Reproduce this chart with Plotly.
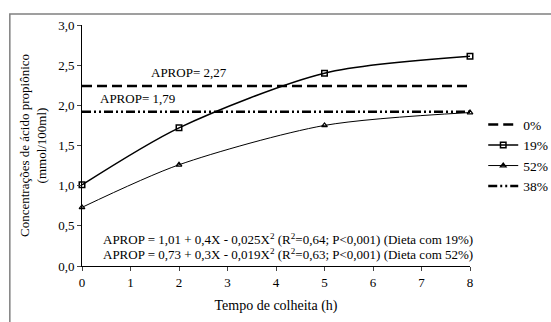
import plotly.graph_objects as go

# Data
tempo = [0, 2, 5, 8]
dieta19 = [1.01, 1.72, 2.40, 2.61]
dieta52 = [0.73, 1.26, 1.75, 1.91]
linha0_x = [0, 8]
linha0_y = [2.24, 2.24]
linha38_x = [0, 8]
linha38_y = [1.92, 1.92]
x_ticks = [0, 1, 2, 3, 4, 5, 6, 7, 8]
y_ticks = [0.0, 0.5, 1.0, 1.5, 2.0, 2.5, 3.0]
y_labels = ["0,0", "0,5", "1,0", "1,5", "2,0", "2,5", "3,0"]

FONT = "Liberation Serif"

fig = go.Figure()
fig.add_trace(go.Scatter(x=linha0_x, y=linha0_y, mode="lines", name="0%",
                         line=dict(color="black", width=2.5, dash="10px,5px"),
                         cliponaxis=False))
fig.add_trace(go.Scatter(x=tempo, y=dieta19, mode="lines+markers", name="19%",
                         line=dict(color="black", width=1.5, shape="spline", smoothing=0.8),
                         marker=dict(symbol="square-open", size=5.5, color="black",
                                     line=dict(width=1.5)),
                         cliponaxis=False))
fig.add_trace(go.Scatter(x=tempo, y=dieta52, mode="lines+markers", name="52%",
                         line=dict(color="black", width=1, shape="spline", smoothing=0.8),
                         marker=dict(symbol="triangle-up-open", size=5, color="black",
                                     line=dict(width=1.2)),
                         cliponaxis=False))
fig.add_trace(go.Scatter(x=linha38_x, y=linha38_y, mode="lines", name="38%",
                         line=dict(color="black", width=2.5,
                                   dash="9px,3px,2px,3px,2px,3px"),
                         cliponaxis=False))

annots = [
    dict(x=2.2, y=2.41, text="APROP= 2,27", xanchor="center"),
    dict(x=1.15, y=2.08, text="APROP= 1,79", xanchor="center"),
    dict(x=0.39, y=0.33, text="APROP = 1,01 + 0,4X - 0,025X<sup>2</sup> (R<sup>2</sup>=0,64; P<0,001) (Dieta com 19%)", xanchor="left"),
    dict(x=0.39, y=0.155, text="APROP = 0,73 + 0,3X - 0,019X<sup>2</sup> (R<sup>2</sup>=0,63; P<0,001) (Dieta com 52%)", xanchor="left"),
]
for a in annots:
    fig.add_annotation(x=a["x"], y=a["y"], text=a["text"], xanchor=a["xanchor"],
                       yanchor="middle", showarrow=False,
                       font=dict(family=FONT, size=13, color="black"))

# outer frame
fig.add_shape(type="rect", xref="paper", yref="paper",
              x0=-0.186, x1=1.5, y0=-0.5, y1=1.046,
              line=dict(color="#808080", width=1.5), layer="below")

fig.update_layout(
    width=551, height=322,
    margin=dict(l=82, r=81, t=25, b=56, autoexpand=False),
    plot_bgcolor="white", paper_bgcolor="white",
    font=dict(family=FONT, size=13, color="black"),
    showlegend=True,
    legend=dict(xref="container", yref="container", x=0.877, y=0.661,
                xanchor="left", yanchor="top",
                font=dict(family=FONT, size=13.5), tracegroupgap=0,
                bgcolor="rgba(0,0,0,0)", itemwidth=30),
    xaxis=dict(range=[0, 8], tickvals=x_ticks, ticks="outside", ticklen=4,
               showline=True, linecolor="black", linewidth=1, showgrid=False,
               zeroline=False, tickfont=dict(family=FONT, size=13),
               title=dict(text="Tempo de colheita (h)", font=dict(family=FONT, size=14),
                          standoff=11)),
    yaxis=dict(range=[0, 3], tickvals=y_ticks, ticktext=y_labels, ticks="outside",
               ticklen=4, showline=True, linecolor="black", linewidth=1,
               showgrid=False, zeroline=False, tickfont=dict(family=FONT, size=13),
               title=dict(text="Concentrações de ácido propiônico<br>(mmol/100ml)",
                          font=dict(family=FONT, size=13), standoff=8)),
)

fig.write_html("out.html")
